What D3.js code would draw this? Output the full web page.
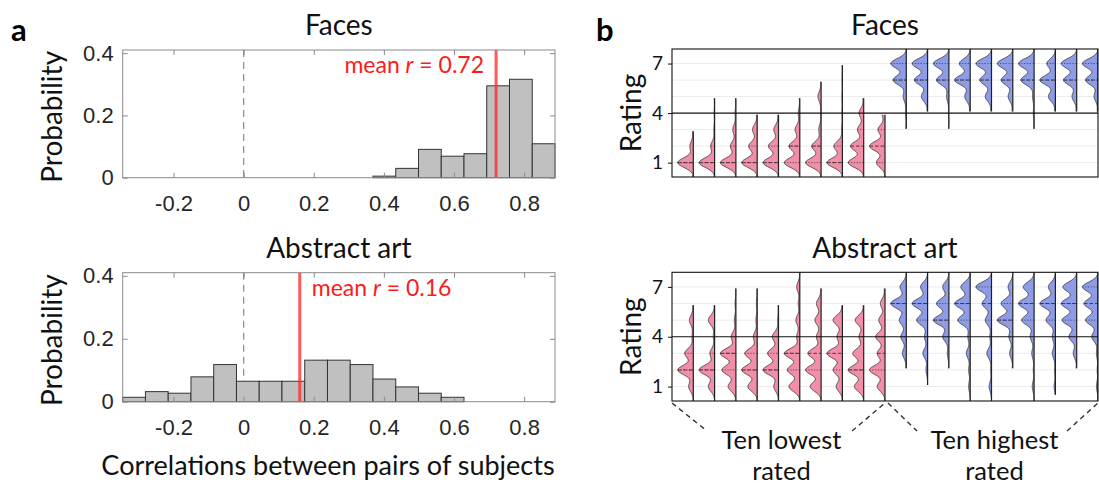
<!DOCTYPE html>
<html>
<head>
<meta charset="utf-8">
<script src="https://cdn.jsdelivr.net/npm/d3@7"></script>
<style>
  body { margin: 0; background: #fff; }
  svg { display: block; }
</style>
</head>
<body>
<svg id="fig" width="1099" height="487"></svg>
<script>
// ---------- panel a: histograms of pairwise correlations ----------
const binStart = -0.345, binWidth = 0.0649, binCount = 19;
const facesProb = [0, 0, 0, 0, 0, 0, 0, 0, 0, 0, 0, 0.005, 0.030, 0.091, 0.069, 0.077, 0.295, 0.316, 0.109];
const artProb = [0.014, 0.032, 0.027, 0.079, 0.118, 0.065, 0.065, 0.065, 0.132, 0.132, 0.118, 0.072, 0.047, 0.027, 0.014, 0, 0, 0, 0];
const facesMean = 0.72;
const artMean = 0.16;
const corrTicks = [-0.2, 0, 0.2, 0.4, 0.6, 0.8];
const probTicks = [0, 0.2, 0.4];

// ---------- panel b: rating distributions (weights for ratings 1..7) ----------
const ratingLevels = [1, 2, 3, 4, 5, 6, 7];
const ratingTicks = [1, 4, 7];

const facesLowest = [
  [1, 0.22, 0.05, 0, 0, 0, 0],
  [1, 0.25, 0.05, 0.03, 0.03, 0, 0],
  [1, 0.35, 0.2, 0.05, 0.03, 0, 0],
  [1, 0.55, 0.3, 0.05, 0, 0, 0],
  [1, 0.65, 0.3, 0.05, 0, 0, 0],
  [1, 0.7, 0.3, 0.1, 0.03, 0, 0],
  [1, 0.6, 0.15, 0.03, 0.2, 0.03, 0],
  [1, 0.55, 0.05, 0.03, 0.03, 0.02, 0.02],
  [1, 0.85, 0.4, 0.3, 0.05, 0, 0],
  [0.55, 1, 0.45, 0.2, 0, 0, 0]
];
const facesLowestRange = [[0, 2.9], [0, 4.9], [0, 4.9], [0, 3.9], [0, 3.9], [0, 4.9], [0, 5.9], [0, 6.9], [0, 4.9], [0, 3.9]];

const facesHighest = [
  [0, 0, 0.03, 0.05, 0.2, 0.85, 1],
  [0, 0, 0, 0.03, 0.4, 0.85, 1],
  [0, 0, 0.03, 0.03, 0.15, 0.8, 1],
  [0, 0, 0, 0.05, 0.35, 1, 0.7],
  [0, 0, 0, 0.05, 0.4, 0.75, 1],
  [0, 0, 0, 0.05, 0.3, 0.75, 1],
  [0, 0, 0.02, 0.05, 0.1, 0.85, 1],
  [0, 0, 0, 0.05, 0.45, 1, 0.55],
  [0, 0, 0, 0.05, 0.3, 0.85, 1],
  [0, 0, 0, 0.05, 0.25, 0.8, 1]
];
const facesHighestRange = [[3.05, 8], [4.1, 8], [3.05, 8], [4.1, 8], [4.1, 8], [4.1, 8], [3.05, 8], [4.1, 8], [4.1, 8], [4.1, 8]];

const artLowest = [
  [0.3, 1, 0.55, 0.08, 0.25, 0.03, 0],
  [0.4, 1, 0.3, 0.08, 0.4, 0.03, 0],
  [0.5, 0.9, 1, 0.3, 0.1, 0.05, 0.02],
  [0.6, 1, 0.8, 0.25, 0.08, 0.05, 0.02],
  [0.3, 1, 0.7, 0.4, 0.05, 0.03, 0],
  [0.7, 0.8, 1, 0.2, 0.25, 0.1, 0.2],
  [0.7, 1, 0.85, 0.3, 0.4, 0.3, 0.02],
  [0.4, 0.6, 1, 0.35, 0.6, 0.03, 0],
  [0.6, 1, 0.7, 0.3, 0.55, 0.03, 0],
  [0.5, 1, 0.5, 0.6, 0.4, 0.3, 0.05]
];
const artLowestRange = [[0, 5.9], [0, 5.9], [0, 6.9], [0, 6.9], [0, 5.9], [0, 8], [0, 6.9], [0, 5.9], [0, 5.9], [0, 6.9]];

const artHighest = [
  [0, 0.03, 0.25, 0.35, 0.45, 1, 0.4],
  [0, 0.1, 0.3, 0.2, 0.7, 1, 0.45],
  [0, 0.03, 0.1, 0.4, 1, 0.8, 0.4],
  [0.1, 0.1, 0.25, 0.15, 0.8, 1, 0.6],
  [0.15, 0.05, 0.3, 0.1, 0.4, 0.6, 1],
  [0, 0.03, 0.2, 0.25, 1, 0.75, 0.3],
  [0.12, 0.05, 0.15, 0.25, 0.8, 1, 0.7],
  [0.08, 0.05, 0.2, 0.2, 0.6, 1, 0.45],
  [0, 0.03, 0.2, 0.45, 0.85, 0.9, 0.8],
  [0.1, 0.05, 0.1, 0.4, 0.8, 0.9, 1]
];
const artHighestRange = [[2.1, 8], [1.1, 8], [2.1, 8], [0, 8], [0, 8], [2.1, 8], [0, 8], [0.5, 8], [2.1, 8], [0, 8]];

// ---------- shared styling ----------
const labelFont = "Lato, 'Open Sans', sans-serif";
const tickFont = "'Liberation Sans', Arial, sans-serif";
const lowColor = "#f28ea7";
const highColor = "#8e9ce8";

const svg = d3.select("#fig");

// Panel letters
svg.append("text").attr("x", 11).attr("y", 41).text("a")
  .attr("font-family", labelFont).attr("font-weight", 700).attr("font-size", 31);
svg.append("text").attr("x", 596).attr("y", 41).text("b")
  .attr("font-family", labelFont).attr("font-weight", 700).attr("font-size", 31);

// ---------- histogram panel ----------
const histX = d3.scaleLinear().domain([binStart, binStart + binWidth * binCount]).range([122.7, 555]);
const fmtCorr = d => (d === 0 ? "0" : String(d));

function drawHistogram(probs, meanR, title, top, bottom) {
  const y = d3.scaleLinear().domain([0, 0.41]).range([bottom, top]);
  const g = svg.append("g");
  const x = histX;
  const [x0, x1] = x.range();

  // title
  g.append("text").attr("x", (x0 + x1) / 2).attr("y", top - 15).attr("text-anchor", "middle")
    .attr("font-family", labelFont).attr("font-size", 28).attr("fill", "#111").text(title);

  // y label
  g.append("text")
    .attr("transform", `translate(${62},${(top + bottom) / 2 + 3}) rotate(-90)`)
    .attr("text-anchor", "middle")
    .attr("font-family", labelFont).attr("font-size", 28).attr("fill", "#111")
    .text("Probability");

  // reference line at r = 0
  g.append("line").attr("x1", x(0)).attr("x2", x(0)).attr("y1", top).attr("y2", bottom)
    .attr("stroke", "#8c8c8c").attr("stroke-width", 1.2).attr("stroke-dasharray", "7,5");

  // bars (up to the last non-empty bin)
  let last = 0;
  probs.forEach((p, i) => { if (p > 0) last = i; });
  const bins = probs.slice(0, last + 1).map((p, i) => ({ lo: binStart + i * binWidth, hi: binStart + (i + 1) * binWidth, p }));
  g.selectAll("rect.bar").data(bins).join("rect").attr("class", "bar")
    .attr("x", d => x(d.lo)).attr("width", d => x(d.hi) - x(d.lo))
    .attr("y", d => y(d.p)).attr("height", d => y(0) - y(d.p))
    .attr("fill", "#c0c0c0").attr("stroke", "#333").attr("stroke-width", 1);

  // mean line
  g.append("line").attr("x1", x(meanR)).attr("x2", x(meanR)).attr("y1", top).attr("y2", bottom)
    .attr("stroke", "#ff2a2a").attr("stroke-opacity", 0.78).attr("stroke-width", 3);

  // axes box
  g.append("rect").attr("x", x0).attr("y", top).attr("width", x1 - x0).attr("height", bottom - top)
    .attr("fill", "none").attr("stroke", "#8a8a8a").attr("stroke-width", 1);

  const styleAxis = sel => {
    sel.select(".domain").remove();
    sel.selectAll(".tick line").attr("stroke", "#8a8a8a");
    sel.attr("font-family", tickFont).attr("font-size", 22).attr("color", "#262626");
  };
  g.append("g").attr("transform", `translate(0,${bottom})`)
    .call(d3.axisBottom(x).tickValues(corrTicks).tickSize(-5).tickPadding(18).tickFormat(fmtCorr))
    .call(styleAxis);
  g.append("g").attr("transform", `translate(0,${top})`)
    .call(d3.axisTop(x).tickValues(corrTicks).tickSize(-5).tickFormat(""))
    .call(styleAxis);
  g.append("g").attr("transform", `translate(${x0},0)`)
    .call(d3.axisLeft(y).tickValues(probTicks).tickSize(-5).tickPadding(9).tickFormat(fmtCorr))
    .call(styleAxis);
  g.append("g").attr("transform", `translate(${x1},0)`)
    .call(d3.axisRight(y).tickValues(probTicks).tickSize(-5).tickFormat(""))
    .call(styleAxis);

  // mean label
  const lbl = g.append("text").attr("y", top + 23)
    .attr("font-family", labelFont).attr("font-size", 23).attr("fill", "#ff1a1a");
  lbl.append("tspan").text("mean ");
  lbl.append("tspan").attr("font-style", "italic").text("r");
  lbl.append("tspan").text(" = " + meanR.toFixed(2));
  return { g, lbl, x };
}

const hTop = drawHistogram(facesProb, facesMean, "Faces", 50, 177.7);
hTop.lbl.attr("x", hTop.x(facesMean) - 12).attr("text-anchor", "end");
const hBot = drawHistogram(artProb, artMean, "Abstract art", 272.7, 401.7);
hBot.lbl.attr("x", hBot.x(artMean) + 12).attr("text-anchor", "start");

svg.append("text").attr("x", 328).attr("y", 475).attr("text-anchor", "middle")
  .attr("font-family", labelFont).attr("font-size", 27).attr("fill", "#111")
  .text("Correlations between pairs of subjects");

// ---------- violin panel ----------
const violinX = d3.scaleBand().domain(d3.range(20)).range([672, 1098]).paddingInner(0).paddingOuter(0);
const bw = 0.29;      // kernel bandwidth (rating units)
const maxHalf = 15.5; // widest half-violin, px

function density(weights, r) {
  let s = 0;
  weights.forEach((w, k) => {
    const z = (r - ratingLevels[k]) / bw;
    s += w * Math.exp(-0.5 * z * z);
  });
  return s;
}

function quantileLevel(weights, q) {
  const total = d3.sum(weights);
  let cum = 0;
  for (let k = 0; k < weights.length; k++) {
    cum += weights[k];
    if (cum / total >= q - 1e-9) return ratingLevels[k];
  }
  return ratingLevels[ratingLevels.length - 1];
}

function drawViolins(lowSet, lowRange, highSet, highRange, title, top, bottom, clipId) {
  const y = d3.scaleLinear().domain([0.13, 7.88]).range([bottom, top]);
  const [vx0, vx1] = violinX.range();
  const g = svg.append("g");

  g.append("text").attr("x", 885).attr("y", top - 14).attr("text-anchor", "middle")
    .attr("font-family", labelFont).attr("font-size", 28).attr("fill", "#111").text(title);

  g.append("text")
    .attr("transform", `translate(${641},${(top + bottom) / 2}) rotate(-90)`)
    .attr("text-anchor", "middle")
    .attr("font-family", labelFont).attr("font-size", 28).attr("fill", "#111")
    .text("Rating");

  svg.append("clipPath").attr("id", clipId).append("rect")
    .attr("x", vx0).attr("y", top).attr("width", vx1 - vx0).attr("height", bottom - top);

  // faint rating grid
  g.selectAll("line.grid").data(ratingLevels.filter(r => r !== 4)).join("line").attr("class", "grid")
    .attr("x1", vx0).attr("x2", vx1).attr("y1", d => y(d)).attr("y2", d => y(d))
    .attr("stroke", "#ebebeb").attr("stroke-width", 1);

  const plot = g.append("g").attr("clip-path", `url(#${clipId})`);

  const items = lowSet.map((w, i) => ({ w, range: lowRange[i], color: lowColor, idx: i }))
    .concat(highSet.map((w, i) => ({ w, range: highRange[i], color: highColor, idx: i + 10 })));

  items.forEach(it => {
    const base = violinX(it.idx) + violinX.bandwidth();
    const [lo, hi] = it.range;
    const grid = d3.range(lo, hi + 1e-6, 0.02);
    if (grid[grid.length - 1] < hi) grid.push(hi);
    const peak = d3.max(d3.range(0.5, 7.5, 0.01), r => density(it.w, r));
    const half = r => maxHalf * density(it.w, r) / peak;
    const pts = grid.map(r => ({ r, h: half(r) }));

    plot.append("path").datum(pts)
      .attr("d", d3.area().y(d => y(d.r)).x0(base).x1(d => base - d.h).curve(d3.curveLinear))
      .attr("fill", it.color);
    plot.append("path").datum(pts)
      .attr("d", d3.line().y(d => y(d.r)).x(d => base - d.h).curve(d3.curveLinear))
      .attr("fill", "none").attr("stroke", "#3a3a3a").attr("stroke-width", 0.9);

    // quartiles (dotted) and median (dashed)
    const q1 = quantileLevel(it.w, 0.25), med = quantileLevel(it.w, 0.5), q3 = quantileLevel(it.w, 0.75);
    [q1, q3].forEach(q => {
      plot.append("line").attr("x1", base - half(q)).attr("x2", base).attr("y1", y(q)).attr("y2", y(q))
        .attr("stroke", "#444").attr("stroke-width", 0.9).attr("stroke-dasharray", "1.2,1.6");
    });
    plot.append("line").attr("x1", base - half(med)).attr("x2", base).attr("y1", y(med)).attr("y2", y(med))
      .attr("stroke", "#333").attr("stroke-width", 0.9).attr("stroke-dasharray", "3.5,2");

    // flat side of the half violin
    plot.append("line").attr("x1", base).attr("x2", base).attr("y1", y(lo)).attr("y2", y(hi))
      .attr("stroke", "#222").attr("stroke-width", 1.2);
  });

  // mid-scale reference at rating 4
  g.append("line").attr("x1", vx0).attr("x2", vx1).attr("y1", y(4)).attr("y2", y(4))
    .attr("stroke", "#111").attr("stroke-width", 1.1);

  g.append("rect").attr("x", vx0).attr("y", top).attr("width", vx1 - vx0).attr("height", bottom - top)
    .attr("fill", "none").attr("stroke", "#111").attr("stroke-width", 1.1);

  const ax = g.append("g").attr("transform", `translate(${vx0},0)`)
    .call(d3.axisLeft(y).tickValues(ratingTicks).tickSize(4).tickPadding(5));
  ax.select(".domain").remove();
  ax.attr("font-family", labelFont).attr("font-size", 19).attr("color", "#111");
  return y;
}

drawViolins(facesLowest, facesLowestRange, facesHighest, facesHighestRange, "Faces", 49, 177, "clipFaces");
drawViolins(artLowest, artLowestRange, artHighest, artHighestRange, "Abstract art", 272.3, 401, "clipArt");

// group brackets below the violins
const [bx0, bx1] = violinX.range();
const bxMid = violinX(10);
const bracketY0 = 403, bracketY1 = 431;
const legs = [
  [bx0, bracketY0, bx0 + 35, bracketY1],
  [bxMid - 33, bracketY1, bxMid, bracketY0],
  [bxMid + 3, bracketY0, bxMid + 32, bracketY1],
  [bx1 - 31, bracketY1, bx1, bracketY0]
];
svg.selectAll("line.bracket").data(legs).join("line").attr("class", "bracket")
  .attr("x1", d => d[0]).attr("y1", d => d[1]).attr("x2", d => d[2]).attr("y2", d => d[3])
  .attr("stroke", "#333").attr("stroke-width", 1.4).attr("stroke-dasharray", "5,4");

const groupNames = [["Ten lowest", "rated"], ["Ten highest", "rated"]];
groupNames.forEach((lines, i) => {
  const cx = (i === 0 ? (bx0 + bxMid) / 2 : (bxMid + bx1) / 2) + 3;
  lines.forEach((t, j) => {
    svg.append("text").attr("x", cx).attr("y", 449 + j * 31).attr("text-anchor", "middle")
      .attr("font-family", labelFont).attr("font-size", 25.5).attr("fill", "#111").text(t);
  });
});
</script>
</body>
</html>
